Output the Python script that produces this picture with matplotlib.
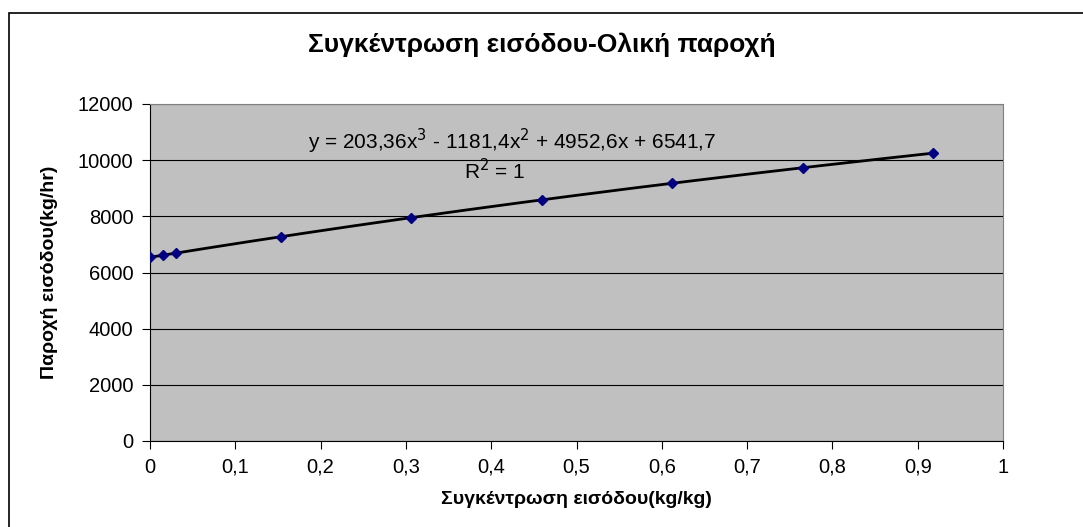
import numpy as np
import matplotlib.pyplot as plt
from matplotlib.patches import Rectangle

plt.rcParams['font.family'] = ['Liberation Sans', 'DejaVu Sans']

conc = [0, 0.015, 0.03, 0.153, 0.306, 0.459, 0.612, 0.765, 0.918]
flow = [6541.7, 6615.7, 6689.2, 7272.5, 7952.4, 8585.7, 9176.8, 9730.0, 10249.9]
xticks = [0, 0.1, 0.2, 0.3, 0.4, 0.5, 0.6, 0.7, 0.8, 0.9, 1]
xlabels = ['0', '0,1', '0,2', '0,3', '0,4', '0,5', '0,6', '0,7', '0,8', '0,9', '1']
yticks = [0, 2000, 4000, 6000, 8000, 10000, 12000]

fig = plt.figure(figsize=(10.83, 5.27), dpi=100)
fig.patches.append(Rectangle((9 / 1083, -0.01), 1.02, 1 - 13 / 527 + 0.01,
                             transform=fig.transFigure, fill=False,
                             edgecolor='black', linewidth=1.2))
ax = fig.add_axes([150 / 1083, 1 - 441 / 527, (1003 - 150) / 1083, (441 - 104) / 527])
ax.set_facecolor('#c0c0c0')

# cubic trendline fitted to the points
coef = np.polyfit(conc, flow, 3)
xs = np.linspace(min(conc), max(conc), 200)
ax.plot(xs, np.polyval(coef, xs), color='black', linewidth=2, zorder=3)
ax.plot(conc, flow, linestyle='none', marker='D', markersize=5,
        color='#000080', zorder=4)

ax.set_xlim(0, 1)
ax.set_ylim(0, 12000)
ax.set_xticks(xticks)
ax.set_xticklabels(xlabels)
ax.set_yticks(yticks)
ax.yaxis.grid(True, color='black', linewidth=0.8)
ax.set_axisbelow(True)
ax.tick_params(direction='out', length=6, labelsize=14.5, color='black', pad=6)
for s in ['top', 'right']:
    ax.spines[s].set_color('#808080')
for s in ['left', 'bottom']:
    ax.spines[s].set_color('black')

ax.set_xlabel('Συγκέντρωση εισόδου(kg/kg)', fontsize=14, fontweight='bold', labelpad=10)
ax.set_ylabel('Παροχή εισόδου(kg/hr)', fontsize=14, fontweight='bold', labelpad=14)
fig.text(0.5, 1 - 45 / 527, 'Συγκέντρωση εισόδου-Ολική παροχή',
         ha='center', va='center', fontsize=19, fontweight='bold')

ax.text(0.424, 10680, r'y = 203,36x$^{3}$ - 1181,4x$^{2}$ + 4952,6x + 6541,7',
        ha='center', va='center', fontsize=15)
ax.text(0.404, 9640, r'R$^{2}$ = 1', ha='center', va='center', fontsize=15)

plt.savefig('out.png', dpi=100)
